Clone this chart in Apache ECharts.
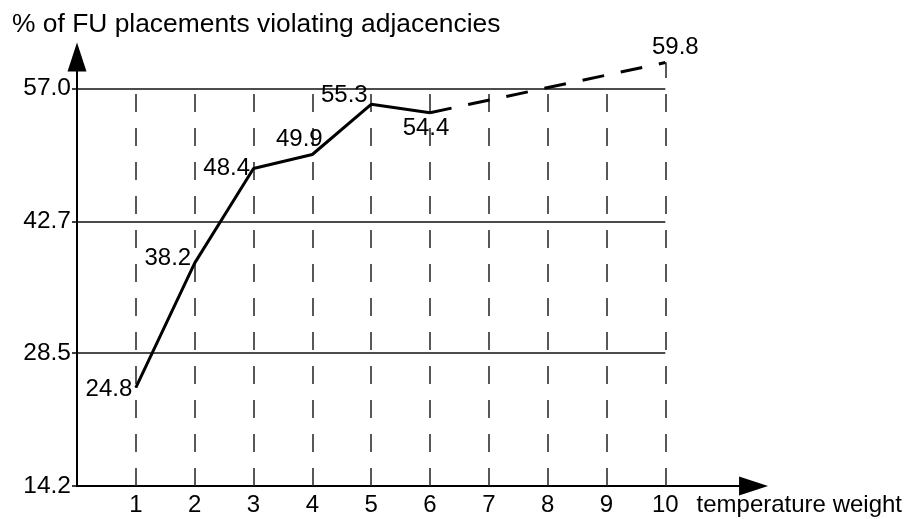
<!DOCTYPE html>
<html>
<head>
<meta charset="utf-8">
<script src="https://cdn.jsdelivr.net/npm/echarts@6/dist/echarts.min.js"></script>
<style>
html, body { margin: 0; padding: 0; background: #fff; }
#main { width: 905px; height: 519px; }
</style>
</head>
<body>
<div id="main"></div>
<script>
// 数据
let weights = [1, 2, 3, 4, 5, 6, 7, 8, 9, 10];
let measured = [[1, 24.8], [2, 38.2], [3, 48.4], [4, 49.9], [5, 55.3], [6, 54.4]];
let projected = [[6, 54.4], [10, 59.8]];
let yTicks = [14.2, 28.5, 42.7, 57.0];

// label placement per point (style only)
let measuredLabel = [
    { position: 'left', offset: [0, 2] },
    { position: 'left', offset: [0, -5] },
    { position: 'left', offset: [0, 0] },
    { position: 'top', offset: [-13, 0] },
    { position: 'left', offset: [0, -9] },
    { position: 'bottom', offset: [-4, 0] }
];

let font = "'Liberation Sans', Arial, sans-serif";
let myChart = echarts.init(document.getElementById('main'));

let xLast = weights[weights.length - 1];
let gridLines = [];
yTicks.slice(1).forEach(function (v) {
    gridLines.push([{ coord: [0, v] }, { coord: [xLast, v] }]);
});
let dashLines = [];
weights.forEach(function (w) {
    let top = w === xLast ? projected[projected.length - 1][1] : yTicks[yTicks.length - 1];
    dashLines.push([{ coord: [w, yTicks[0]] }, { coord: [w, top] }]);
});

let valueLabel = function (p) { return p.value[1].toFixed(1); };

let option = {
    animation: false,
    textStyle: { fontFamily: font },
    grid: { left: 77, right: 151, top: 57, bottom: 33 },
    xAxis: {
        type: 'value',
        min: 0,
        max: 11.5,
        name: 'temperature weight',
        nameLocation: 'end',
        nameGap: -57,
        nameTextStyle: { color: '#000', fontSize: 24, fontFamily: font, align: 'left', verticalAlign: 'top', padding: [7, 0, 0, 0] },
        axisLine: { lineStyle: { color: '#000', width: 2 }, symbol: ['none', 'triangle'], symbolSize: [19, 29] },
        axisTick: { show: false },
        splitLine: { show: false },
        axisLabel: { customValues: weights, color: '#000', fontSize: 24, margin: 7, fontFamily: font }
    },
    yAxis: {
        type: 'value',
        min: yTicks[0],
        max: 60.4,
        name: '% of FU placements violating adjacencies',
        nameLocation: 'end',
        nameGap: 32,
        nameTextStyle: { color: '#000', fontSize: 26.4, fontFamily: font, align: 'left', verticalAlign: 'middle', padding: [0, 0, 0, -65] },
        axisLine: { lineStyle: { color: '#000', width: 2 }, symbol: ['none', 'triangle'], symbolSize: [19, 29] },
        axisTick: { customValues: yTicks, length: 5, lineStyle: { color: '#000', width: 1.5 } },
        splitLine: { show: false },
        axisLabel: {
            customValues: yTicks, color: '#000', fontSize: 24.5, margin: 6, fontFamily: font,
            formatter: function (v) { return v.toFixed(1); }
        }
    },
    series: [
        {
            type: 'line',
            data: [],
            silent: true,
            markLine: {
                silent: true, symbol: 'none', label: { show: false },
                lineStyle: { color: '#111', width: 1.5, type: 'solid' },
                data: gridLines
            }
        },
        {
            type: 'line',
            data: [],
            silent: true,
            markLine: {
                silent: true, symbol: 'none', label: { show: false },
                lineStyle: { color: '#222', width: 1.5, type: [18, 16] },
                data: dashLines
            }
        },
        {
            type: 'line',
            data: measured.map(function (d, i) {
                return { value: d, label: measuredLabel[i] };
            }),
            symbol: 'circle',
            symbolSize: 1,
            showSymbol: true,
            itemStyle: { color: '#000' },
            lineStyle: { color: '#000', width: 3 },
            label: { show: true, color: '#000', fontSize: 24, fontFamily: font, distance: 3, formatter: valueLabel },
            z: 5
        },
        {
            type: 'line',
            data: projected.map(function (d, i) {
                return { value: d, label: { show: i === projected.length - 1, position: 'top', offset: [10, 0] } };
            }),
            symbol: 'circle',
            symbolSize: 1,
            showSymbol: true,
            itemStyle: { color: '#000' },
            lineStyle: { color: '#000', width: 3, type: [22, 17] },
            label: { color: '#000', fontSize: 24, fontFamily: font, distance: 3, formatter: valueLabel },
            z: 5
        }
    ]
};

myChart.setOption(option);
</script>
</body>
</html>
